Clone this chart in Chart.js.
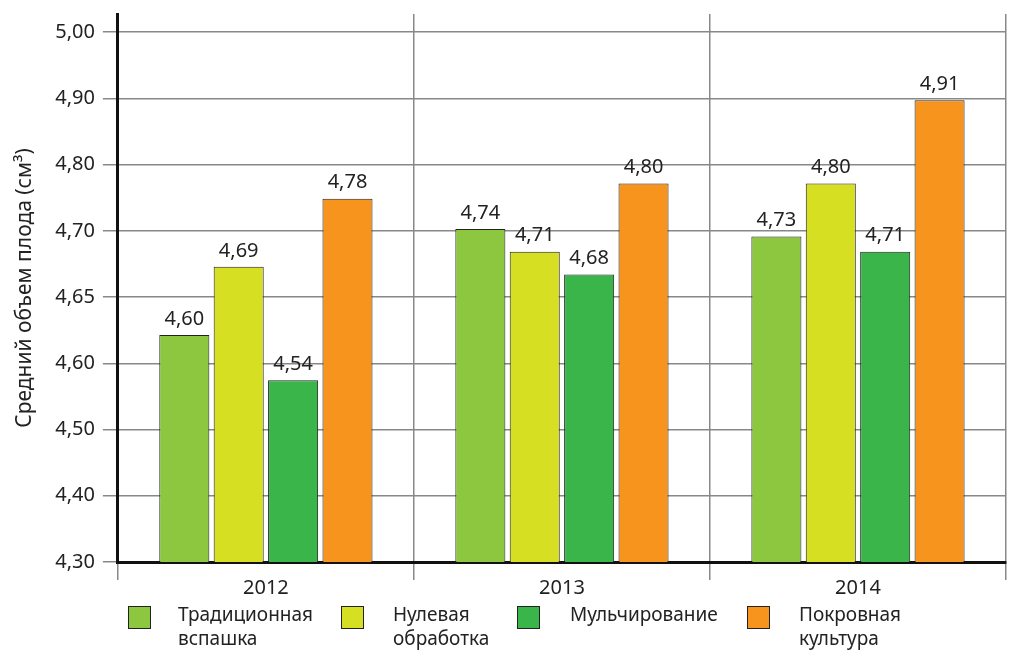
<!DOCTYPE html>
<html>
<head>
<meta charset="utf-8">
<script src="https://cdn.jsdelivr.net/npm/chart.js@4/dist/chart.umd.min.js"></script>
<style>
  body { margin: 0; background: #fff; }
  #wrap { position: relative; width: 1022px; height: 653px; }
  #legend { position: absolute; left: 0; top: 0; width: 1022px; height: 653px; pointer-events: none;
            font-family: "Noto Sans", sans-serif; font-size: 19px; color: #222; }
  .sw { position: absolute; top: 606px; width: 23px; height: 23px; border: 1px solid #222; box-sizing: border-box; }
  .lt { position: absolute; top: 602px; line-height: 24px; }
</style>
</head>
<body>
<div id="wrap">
  <canvas id="myChart" width="1022" height="653"></canvas>
  <div id="legend"></div>
</div>
<script>
const years = ['2012', '2013', '2014'];
const seriesNames = ['Традиционная вспашка', 'Нулевая обработка', 'Мульчирование', 'Покровная культура'];
const legendLines = [['Традиционная', 'вспашка'], ['Нулевая', 'обработка'], ['Мульчирование'], ['Покровная', 'культура']];
const colors = ['#8dc63f', '#d7df23', '#39b54a', '#f7941d'];
const tradValues = [4.60, 4.74, 4.73];
const zeroValues = [4.69, 4.71, 4.80];
const mulchValues = [4.54, 4.68, 4.71];
const coverValues = [4.78, 4.80, 4.91];
const yLabels = ['4,30', '4,40', '4,50', '4,60', '4,65', '4,70', '4,80', '4,90', '5,00'];

const allValues = [tradValues, zeroValues, mulchValues, coverValues];
const fontFamily = '"Noto Sans", sans-serif';

// подписи значений над столбцами
const valueLabels = {
    id: 'valueLabels',
    afterDatasetsDraw(chart) {
        const ctx = chart.ctx;
        ctx.save();
        ctx.font = '20px ' + fontFamily;
        ctx.fillStyle = '#222';
        ctx.textAlign = 'center';
        ctx.textBaseline = 'bottom';
        chart.data.datasets.forEach((ds, i) => {
            chart.getDatasetMeta(i).data.forEach((bar, j) => {
                ctx.fillText(ds.data[j].toFixed(2).replace('.', ','), bar.x, bar.y - 6);
            });
        });
        ctx.restore();
    }
};

const ctx = document.getElementById('myChart').getContext('2d');
const myChart = new Chart(ctx, {
    type: 'bar',
    data: {
        labels: years,
        datasets: allValues.map((vals, i) => ({
            label: seriesNames[i],
            data: vals,
            backgroundColor: colors[i],
            borderColor: '#222',
            borderWidth: 1,
            barPercentage: 0.92,
            categoryPercentage: 0.735
        }))
    },
    options: {
        responsive: false,
        animation: false,
        layout: { padding: { left: 8, right: 16, top: 14, bottom: 57 } },
        plugins: {
            legend: { display: false },
            tooltip: { enabled: false }
        },
        scales: {
            x: {
                grid: { color: '#888', lineWidth: 1.5, tickLength: 18, offset: true },
                border: { color: '#111', width: 3 },
                ticks: { color: '#222', font: { family: fontFamily, size: 20 }, padding: -4 }
            },
            y: {
                min: 4.30,
                max: 5.024,
                afterBuildTicks: scale => {
                    scale.ticks = yLabels.map((l, i) => ({ value: 4.30 + i * 0.0875 }));
                },
                afterFit: scale => { scale.paddingTop = 0; },
                grid: { color: '#888', lineWidth: 1.5, tickLength: 15 },
                border: { color: '#111', width: 3 },
                ticks: {
                    color: '#222',
                    font: { family: fontFamily, size: 20 },
                    padding: 8,
                    callback: (v, i) => yLabels[i]
                },
                title: {
                    display: true,
                    text: 'Средний объем плода (см³)',
                    color: '#222',
                    font: { family: fontFamily, size: 21 },
                    padding: { bottom: 10 }
                }
            }
        }
    },
    plugins: [valueLabels]
});

// легенда под графиком
const legendX = [[128, 178], [341, 393], [517, 570], [747, 799]];
const legend = document.getElementById('legend');
legendLines.forEach((lines, i) => {
    const sw = document.createElement('div');
    sw.className = 'sw';
    sw.style.left = legendX[i][0] + 'px';
    sw.style.background = colors[i];
    legend.appendChild(sw);
    const t = document.createElement('div');
    t.className = 'lt';
    t.style.left = legendX[i][1] + 'px';
    t.innerHTML = lines.join('<br>');
    legend.appendChild(t);
});
</script>
</body>
</html>
